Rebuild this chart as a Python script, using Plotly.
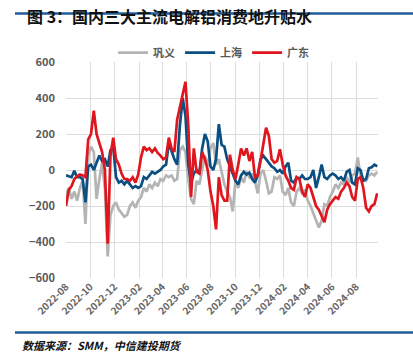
import pandas as pd
import plotly.graph_objects as go

# weekly observation dates (Mondays), Aug 2022 - Sep 2024
dates = pd.date_range("2022-08-01", periods=113, freq="7D")

gongyi = [
    -140, -100, -160, -120, -170, -100, -60, -300, 80, 130,
    100, -160, -50, 40, -100, -480, -250, -200, -180, -220,
    -240, -260, -250, -200, -180, -210, -170, -150, -100, -120,
    -80, -100, -70, -90, -50, -60, -30, -40, -30, -60,
    -50, 110, 130, 100, -50, -160, -190, -60, -80, 0,
    80, 20, 120, 150, 30, 60, -20, -80, -120, -150,
    -230, -60, -100, -40, -70, -10, -40, -20, -60, -130,
    -20, 0, -60, -130, -120, -40, -50, -30, -120, -140,
    -100, -180, -200, -120, -100, -130, -110, -170, -200, -240,
    -280, -320, -280, -190, -200, -150, -120, -80, -100, -70,
    -80, -40, -70, -30, -20, 70, -30, -50, -60, -30,
    -20, -30, -10,
]

shanghai = [
    -30, -35, -40, -5, -40, -40, -50, -180, 20, 30,
    0, 40, 80, 50, 60, 20, 110, 130, -40, -70,
    -60, -80, -60, -80, -100, -90, -100, -90, -40, -50,
    -30, -10, -20, -10, 0, 20, 30, 150, 100, 60,
    30, 250, 400, 300, 30, -70, -20, 0, -20, 120,
    200, 160, 20, 0, 60, 255, 140, 130, 60, 20,
    -30, -60, -80, -30, -10, -25, -15, -50, -70, -30,
    60, 80, 60, 40, 20, 10, -10, 0, -20, 20,
    40, -60, -70, -40, -50, -30, -50, -50, -40, 0,
    -100, -40, 30, -40, -50, -30, -20, -30, -50, -40,
    -60, -10, 0, -70, -80, 10, 0, -60, -50, 10,
    15, 30, 20,
]

guangdong = [
    -200, -110, -90, -50, -35, -25, -30, -40, 170, 200,
    330, 200, 150, 100, 0, -410, 80, 180, 60, 30,
    -20, -50, -50, -60, -40, -70, -25, 70, 130, 110,
    120, 100, 120, 95, 80, 60, 70, 180, 120, 100,
    280, 350, 430, 490, 250, -150, 120, -10, -20, 100,
    60, 0, -120, -200, -330, -40, -140, -170, -170, 85,
    0, -50, 30, 120, 80, 120, 50, 100, -40, -30,
    50, 150, 235, 190, 60, 40, 50, 115, 30, -30,
    -60, -100, -110, -40, -50, -120, -150, -80, -100, -150,
    -200, -220, -260, -290, -220, -190, -170, -150, -160, -120,
    -100, -70, -90, -150, -170, -50, -40, -100, -210, -230,
    -200, -190, -130,
]

series_names = ["巩义", "上海", "广东"]
series_colors = ["#b4b4b4", "#0b4f82", "#e0161e"]
y_ticks = [600, 400, 200, 0, -200, -400, -600]

CJK = "Noto Sans CJK SC"
fig = go.Figure()
for name, vals, col in zip(series_names, [gongyi, shanghai, guangdong], series_colors):
    fig.add_trace(go.Scatter(x=dates, y=vals, name=name, mode="lines",
                             line=dict(color=col, width=2.7)))

fig.update_layout(
    width=413, height=354,
    margin=dict(l=66, r=35, t=62, b=76),
    paper_bgcolor="white", plot_bgcolor="white",
    font=dict(family=CJK, color="#595959"),
    showlegend=True,
    legend=dict(orientation="h", x=0.473, xanchor="center", y=1.043, yanchor="middle",
                font=dict(size=11, color="#595959", family=CJK, weight="bold"),
                bgcolor="rgba(0,0,0,0)", itemwidth=30),
    xaxis=dict(
        type="date",
        range=["2022-08-01", "2024-09-25"],
        dtick="M2", tick0="2022-08-01", tickformat="%Y-%m",
        tickangle=-45, tickfont=dict(size=10, color="#666666", family=CJK, weight="bold"),
        showgrid=True, gridcolor="#dcdcdc", gridwidth=1,
        showline=False, zeroline=False, ticks="",
    ),
    yaxis=dict(
        range=[-600, 600], tickvals=y_ticks,
        tickfont=dict(size=11, color="#595959", family=CJK, weight="bold"),
        showgrid=True, gridcolor="#dcdcdc", gridwidth=1,
        zeroline=False, showline=False, ticks="", ticklabelstandoff=10,
    ),
)

fig.add_annotation(text="图 3：国内三大主流电解铝消费地升贴水", xref="paper", yref="paper",
                   x=-0.1314, y=1.215, xanchor="left", yanchor="middle", showarrow=False,
                   font=dict(size=16, color="#111111", family=CJK, weight="bold"))
fig.add_annotation(text="数据来源：SMM，中信建投期货", xref="paper", yref="paper",
                   x=-0.147, y=-0.308, xanchor="left", yanchor="middle", showarrow=False,
                   font=dict(size=11, color="#111111", family=CJK, weight="bold", style="italic"))
for yy in [1.2245, -0.2523]:
    fig.add_shape(type="line", xref="paper", yref="paper", x0=-0.1635, x1=1.12,
                  y0=yy, y1=yy, line=dict(color="#1f5c99", width=2.5))

fig.write_html("out.html")
